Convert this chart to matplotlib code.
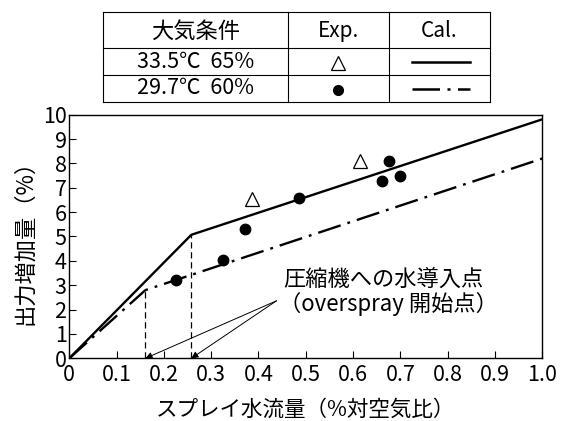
"""Spray water flow vs. output increase, with the overspray start points."""
import matplotlib.pyplot as plt
from matplotlib.lines import Line2D

plt.rcParams["font.family"] = ["Noto Sans CJK JP", "DejaVu Sans"]

# calculated curves: origin -> overspray start -> end of range
CAL_X_HOT = [0.0, 0.258, 1.0]
CAL_Y_HOT = [0.0, 5.07, 9.81]
CAL_X_MILD = [0.0, 0.161, 1.0]
CAL_Y_MILD = [0.0, 2.80, 8.20]

# measured points
EXP_X_HOT = [0.386, 0.615]
EXP_Y_HOT = [6.54, 8.09]
EXP_X_MILD = [0.225, 0.326, 0.371, 0.486, 0.662, 0.676, 0.700]
EXP_Y_MILD = [3.21, 4.04, 5.31, 6.59, 7.28, 8.09, 7.50]

XTICKS = [0.0, 0.1, 0.2, 0.3, 0.4, 0.5, 0.6, 0.7, 0.8, 0.9, 1.0]
XTICK_LABELS = ["0", "0.1", "0.2", "0.3", "0.4", "0.5", "0.6", "0.7", "0.8", "0.9", "1.0"]
YTICKS = list(range(0, 11))

TABLE_HEAD = ["大気条件", "Exp.", "Cal."]
TABLE_ROWS = ["33.5℃  65%", "29.7℃  60%"]

DASHDOT = (10, 3, 1.2, 3)

fig = plt.figure(figsize=(5.61, 4.21), dpi=100)
ax = fig.add_axes([0.1235, 0.1489, 0.8432, 0.5787])

ax.plot(CAL_X_HOT, CAL_Y_HOT, color="black", lw=1.7, solid_capstyle="butt")
ax.plot(CAL_X_MILD, CAL_Y_MILD, color="black", lw=1.7, dashes=DASHDOT)

# dashed drop lines at the kinks
for xs, ys in ((CAL_X_HOT, CAL_Y_HOT), (CAL_X_MILD, CAL_Y_MILD)):
    ax.plot([xs[1], xs[1]], [0, ys[1]], color="black", lw=0.9, dashes=(5, 3))

ax.plot(EXP_X_HOT, EXP_Y_HOT, ls="none", marker="^", ms=9.5,
        mfc="white", mec="black", mew=0.9)
ax.plot(EXP_X_MILD, EXP_Y_MILD, ls="none", marker="o", ms=7.5,
        mfc="black", mec="black")

ax.text(0.452, 3.25, "圧縮機への水導入点", fontsize=16, va="center", ha="left")
ax.text(0.444, 2.25, "（overspray 開始点）", fontsize=16, va="center", ha="left")
for xs in (CAL_X_MILD, CAL_X_HOT):
    ax.annotate("", xy=(xs[1], 0.0), xytext=(0.438, 2.36),
                arrowprops=dict(arrowstyle="-|>", color="black", lw=0.7,
                                mutation_scale=10, shrinkA=0, shrinkB=0))

ax.set_xlim(0, 1.0)
ax.set_ylim(0, 10)
ax.set_xticks(XTICKS)
ax.set_xticklabels(XTICK_LABELS)
ax.set_yticks(YTICKS)
ax.tick_params(direction="in", length=5, width=0.8, labelsize=15.5, pad=2)
ax.tick_params(axis="x", pad=4)
for s in ax.spines.values():
    s.set_linewidth(1.0)

ax.set_xlabel("スプレイ水流量（%対空気比）", fontsize=15.5, labelpad=9)
ax.set_ylabel("出力増加量（%）", fontsize=16, labelpad=5)

# condition table above the plot, drawn in pixel coordinates
tab = fig.add_axes([0, 0, 1, 1], zorder=-1)
tab.set_xlim(0, 561)
tab.set_ylim(421, 0)
tab.axis("off")
col_x = [103, 288, 389, 490]
row_y = [12, 48, 75, 102]
for x in col_x:
    tab.plot([x, x], [row_y[0], row_y[-1]], color="black", lw=0.8)
for y in row_y:
    tab.plot([col_x[0], col_x[-1]], [y, y], color="black", lw=0.8)
mid = [(col_x[i] + col_x[i + 1]) / 2 for i in range(3)]
rmid = [(row_y[i] + row_y[i + 1]) / 2 for i in range(3)]
for i, label in enumerate(TABLE_HEAD):
    tab.text(mid[i], rmid[0] + 1, label, fontsize=16 if i == 0 else 15,
             ha="center", va="center")
for j, label in enumerate(TABLE_ROWS):
    tab.text(mid[0], rmid[j + 1], label, fontsize=15.5, ha="center", va="center")
tab.plot([mid[1]], [rmid[1] + 1], marker="^", ms=10.5, mfc="white", mec="black",
         mew=0.9, ls="none")
tab.plot([mid[1]], [rmid[2] + 1], marker="o", ms=7, mfc="black", mec="black",
         ls="none")
tab.add_line(Line2D([412, 470], [rmid[1], rmid[1]], color="black", lw=1.8))
tab.add_line(Line2D([412, 470], [rmid[2], rmid[2]], color="black", lw=1.8,
                    dashes=(11, 3, 1.2, 3)))

fig.savefig("out.png", dpi=100)
